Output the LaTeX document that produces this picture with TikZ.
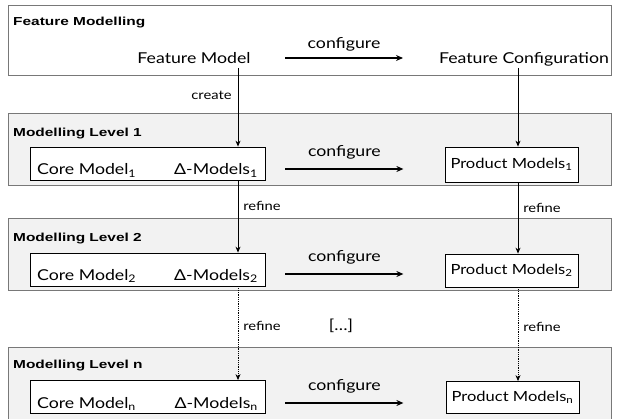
\documentclass[tikz,border=0pt]{standalone}
\usepackage{fontspec}
\setmainfont[FakeStretch=1.18]{Lato}
\newfontfamily\titlefont[FakeStretch=1.33]{Liberation Sans}
\usetikzlibrary{arrows.meta, positioning}
\definecolor{bandgray}{RGB}{120,120,120}
\definecolor{bandfill}{RGB}{242,242,242}

\begin{document}
\begin{tikzpicture}[
      x=1pt, y=-1pt,
      every node/.style={font=\fontsize{15}{17}\selectfont, inner sep=0pt},
      band/.style={draw=bandgray, line width=1.2pt, anchor=north west, minimum width=603pt},
      level/.style={band, fill=bandfill},
      title/.style={font=\titlefont\bfseries\fontsize{11.6}{13}\selectfont, anchor=base west},
      modelbox/.style={draw, line width=0.8pt, fill=white},
      productbox/.style={modelbox, minimum width=133pt, font=\fontsize{14}{16}\selectfont},
      small/.style={font=\fontsize{12.5}{14}\selectfont},
      flow/.style={-{Stealth[length=6pt, width=5pt]}, line width=0.8pt},
      dotflow/.style={flow, densely dotted},
      conf/.style={-{Stealth[length=7pt, width=6pt]}, line width=1.6pt}
    ]
    \useasboundingbox (0,0) rectangle (617,419);

    % Bands
    \node[band, minimum height=70pt] (fmband) at (8,5) {};
    \node[level, minimum height=72pt] (lvl1) at (8,113) {};
    \node[level, minimum height=72pt] (lvl2) at (8,218) {};
    \node[level, minimum height=76pt] (lvln) at (8,347) {};

    % Band titles
    \node[title] (fmtitle) at (13,26) {Feature Modelling};
    \node[title] (title1) at (13,137) {Modelling Level 1};
    \node[title] (title2) at (13,241) {Modelling Level 2};
    \node[title] (titlen) at (13,368) {Modelling Level n};

    % Feature level
    \node[anchor=base] (fm) at (194,64) {Feature Model};
    \node[anchor=base] (fc) at (524,64) {Feature Configuration};

    % Core boxes
    \node[modelbox, minimum width=235pt, minimum height=33pt] (core1) at (147.5,163.5) {};
    \node[modelbox, minimum width=235pt, minimum height=33pt] (core2) at (147.5,269.5) {};
    \node[modelbox, minimum width=235pt, minimum height=33pt] (coren) at (147.5,397) {};
    \node[anchor=base west] (cm1) at (37,175) {Core Model\textsubscript{1}};
    \node[anchor=base east] (dm1) at (258,175) {Δ-Models\textsubscript{1}};
    \node[anchor=base west] (cm2) at (37,280) {Core Model\textsubscript{2}};
    \node[anchor=base east] (dm2) at (258,280) {Δ-Models\textsubscript{2}};
    \node[anchor=base west] (cmn) at (37,408) {Core Model\textsubscript{n}};
    \node[anchor=base east] (dmn) at (258,408) {Δ-Models\textsubscript{n}};

    % Product boxes
    \node[productbox, minimum height=35pt] (pm1) at (511.5,164.5) {Product Models\textsubscript{1}};
    \node[productbox, minimum height=33pt] (pm2) at (511.5,270.5) {Product Models\textsubscript{2}};
    \node[productbox, minimum height=32pt] (pmn) at (512.5,397.5) {Product Models\textsubscript{n}};

    \coordinate (left) at (238,68);
    \coordinate (right) at (518,68);
    \coordinate (cfgstart) at (285,58);
    \coordinate (cfgend) at (403,58);

    % Arrows
    \draw[flow] (left) -- (left |- core1.north) node[small, pos=0.35, left=6pt] {create};
    \draw[flow] (right) -- (right |- pm1.north);
    \draw[flow] (left |- core1.south) -- (left |- core2.north) node[small, pos=0.36, right=5pt] {refine};
    \draw[flow] (right |- pm1.south) -- (right |- pm2.north) node[small, pos=0.36, right=5pt] {refine};
    \draw[dotflow] (left |- core2.south) -- (left |- coren.north) node[small, pos=0.42, right=5pt] {refine};
    \draw[dotflow] (right |- pm2.south) -- (right |- pmn.north) node[small, pos=0.42, right=5pt] {refine};
    \node (dots) at (341,326) {[\ldots]};

    % Configure arrows
    \draw[conf] (cfgstart) -- (cfgend) node[midway, above=6pt] {configure};
    \draw[conf] ([shift={(20pt,-5.5pt)}]core1.east) -- ++(118pt,0) node[midway, above=9pt] {configure};
    \draw[conf] ([shift={(20pt,-4.5pt)}]core2.east) -- ++(118pt,0) node[midway, above=9pt] {configure};
    \draw[conf] ([shift={(20pt,-6pt)}]coren.east) -- ++(118pt,0) node[midway, above=9pt] {configure};
\end{tikzpicture}
\end{document}
